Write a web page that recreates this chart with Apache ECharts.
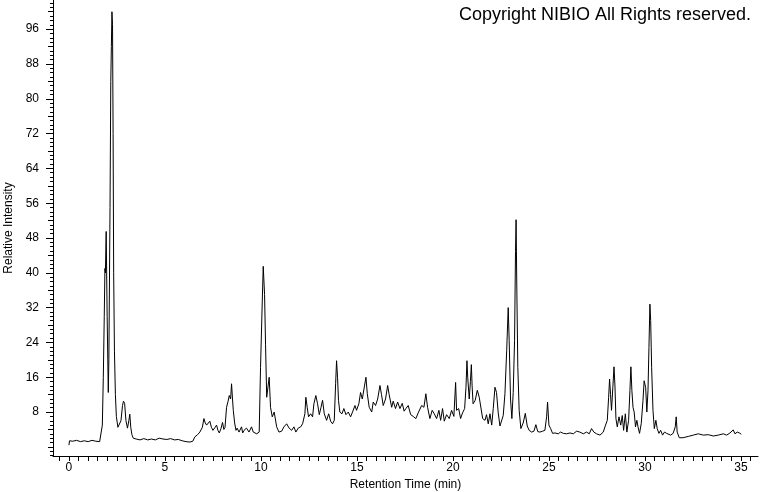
<!DOCTYPE html>
<html>
<head>
<meta charset="utf-8">
<script src="https://cdn.jsdelivr.net/npm/echarts@6/dist/echarts.min.js"></script>
<style>html,body{margin:0;padding:0;background:#fff}#c{width:760px;height:492px}</style>
</head>
<body>
<div id="c"></div>
<script>
const times = [0.00,0.03,0.2,0.4,0.6,0.8,1.0,1.2,1.4,1.6,1.69,
1.74,1.79,1.84,1.875,1.90,1.94,1.99,2.05,2.08,2.14,2.18,2.21,2.24,2.27,2.30,2.33,2.37,2.42,2.47,2.55,2.63,2.71,2.79,2.84,2.90,2.97,3.05,3.12,3.17,3.22,3.28,3.35,
3.5,3.7,3.9,4.1,4.3,4.5,4.7,4.9,5.1,5.3,5.5,5.7,5.9,6.1,6.3,6.45,6.56,6.7,6.82,6.95,7.03,7.1,7.17,7.25,7.34,7.42,7.5,7.6,7.69,7.76,7.83,7.92,8.0,8.07,8.13,8.21,8.29,8.35,8.42,8.47,8.52,8.56,8.63,8.7,8.76,8.86,8.99,9.05,9.12,9.25,9.38,9.51,9.6,9.7,9.78,9.91,
9.98,10.07,10.12,10.19,10.24,10.3,10.36,10.43,10.5,10.59,10.69,10.82,10.94,11.08,11.2,11.34,11.47,11.6,11.72,11.82,11.94,12.07,12.17,12.29,12.34,12.41,12.48,12.59,12.69,12.76,12.86,12.95,13.04,13.13,13.21,13.3,13.42,13.53,13.63,13.73,13.82,13.89,13.94,13.99,14.04,14.11,14.22,14.32,14.43,14.55,14.67,14.77,14.9,14.98,
15.1,15.19,15.28,15.38,15.47,15.54,15.64,15.77,15.85,15.97,16.08,16.2,16.28,16.37,16.49,16.6,16.68,16.81,16.89,17.01,17.12,17.24,17.36,17.46,17.55,17.67,17.8,17.93,18.07,18.19,18.37,18.49,18.59,18.68,18.8,18.92,19.03,19.15,19.27,19.36,19.46,19.55,19.67,19.81,19.93,
20.05,20.14,20.19,20.3,20.4,20.5,20.61,20.68,20.73,20.77,20.85,20.91,20.96,21.0,21.05,21.16,21.27,21.37,21.46,21.55,21.67,21.75,21.84,21.93,22.02,22.1,22.19,22.27,22.36,22.45,22.54,22.62,22.71,22.8,22.88,22.93,23.0,23.07,23.14,23.21,23.26,23.29,23.33,23.38,23.45,23.54,23.66,23.77,23.87,23.97,24.1,24.22,24.32,24.42,24.53,24.67,24.79,24.88,24.93,
25.0,25.09,25.19,25.31,25.49,25.6,25.75,25.92,26.1,26.27,26.44,26.61,26.79,26.96,27.1,27.22,27.34,27.48,27.66,27.83,27.95,28.04,28.11,28.16,28.21,28.26,28.33,28.39,28.44,28.49,28.56,28.65,28.74,28.82,28.89,28.98,29.06,29.15,29.22,29.27,29.32,29.38,29.44,29.51,29.58,29.64,29.72,29.81,29.9,29.96,
30.04,30.1,30.16,30.21,30.26,30.3,30.35,30.42,30.49,30.57,30.64,30.73,30.82,30.92,31.02,31.13,31.23,31.34,31.47,31.58,31.63,31.68,31.79,31.99,32.26,32.52,32.78,33.04,33.3,33.56,33.82,34.08,34.26,34.43,34.6,34.69,34.81,34.92,35.02];
const intensity = [0.4,1.4,1.3,1.5,1.2,1.4,1.2,1.5,1.3,1.2,1.4,
5,16,30,41,40,49.5,30,12.5,20,55,84,92,100,97,72,40,22,12,7,4.5,4.3,6,9.5,10.5,10,6,4.3,6,7.5,4.5,2.8,2.0,
1.8,1.6,1.9,1.6,1.8,1.6,2.0,1.8,1.7,1.9,1.6,1.7,1.4,1.2,1.1,1.3,2.3,2.8,3.4,4.5,6.5,5.5,5.0,4.8,5.9,4.5,3.8,4.4,5.0,3.8,3.2,4.2,5.6,4.0,4.5,9.1,10.5,11.8,11.0,14.5,11,8.4,5.5,3.8,4.3,3.4,4.6,3.2,3.8,4.3,3.4,4.6,3.4,3.8,3.0,3.4,
18.3,33.5,41.5,35,23.6,11.4,11,16,9.1,6.9,8,4.6,3.4,3.6,4.6,5.3,4.3,3.8,4.6,3.4,4.3,4.6,5.3,7.6,11.4,9.1,6.9,7.6,6.9,9.9,11.8,9.9,7.4,9.1,10.7,7.6,6.1,7.6,5.9,5.3,6.1,14.5,19.8,16,10.7,8,7.6,8.8,7.4,8,6.9,8,9.5,8.4,
9.9,12.5,11,11.4,16,12.2,9.1,8,10.3,9.5,11,14.1,12,9.5,11,14.1,12,9.1,10.5,8.8,10.3,8.8,10,8.2,8.8,9.5,7.4,7.0,6.5,7.8,9.5,9.1,12.2,9.1,6.5,8.4,7.6,6.5,8.4,6.1,8.8,5.9,7.4,6.5,8.4,
7.0,14.8,8.4,8.8,6.5,7.8,8.8,13.7,19.8,16,11,15,18.9,14,9.9,10.7,13,11.4,11,6.5,6.1,7.4,5.3,7.6,5.0,8.8,13.7,12.5,7.8,4.8,4.6,7.2,12.2,22.1,32,24.4,11,6.5,12.5,24.4,44.9,52.2,35.8,18.3,8.4,4.2,5.5,7.7,4.8,3.8,3.4,3.6,5.1,3.5,3.4,3.6,3.8,6.9,10.3,
5,4.2,3.1,3.2,3.0,3.4,3.1,3.0,3.2,3.0,3.6,3.4,3.0,3.4,3.0,4.2,3.4,3.0,2.7,3.4,5.0,6.1,11.4,15.6,12,8.4,13.7,18.4,14,6.5,4.6,6.9,5,7.2,3.8,7.6,3.4,6.1,13,18.4,13,9.1,8.0,4.6,6.1,4.6,3.1,5.4,10.7,15.2,
13.6,8,12.9,22.8,32.8,29,18.3,8.4,4.2,6.1,4.2,3.1,3.8,2.7,3.4,3.1,3.2,2.7,3.1,4.6,6.9,3.4,2.1,2.1,2.4,2.7,3.0,2.7,2.8,2.5,2.7,3.0,2.7,3.2,3.9,3.0,3.4,3.2,2.9];

const xLabelValues = [0,5,10,15,20,25,30,35];
const yLabelValues = [8,16,24,32,40,48,56,64,72,80,88,96];

const xMinorTicks = [];
for (let v = -0.5; v <= 35.5; v += 0.5) xMinorTicks.push(v);
const yMinorTicks = [];
for (let v = -2; v <= 102; v += 1) yMinorTicks.push(v);
const yMidTicks = [];
for (let v = 0; v <= 100; v += 4) yMidTicks.push(v);

const data = times.map((t, i) => [t, intensity[i]]);
const FONT = 'Liberation Sans, Arial, sans-serif';
const YMIN = -2.1, YMAX = 102.7;

const chart = echarts.init(document.getElementById('c'), null, {renderer: 'canvas'});
const yBase = {
  type: 'value', min: YMIN, max: YMAX, position: 'left',
  splitLine: {show: false},
  axisLine: {show: false, onZero: false},
  axisLabel: {show: false},
};
chart.setOption({
  animation: false,
  backgroundColor: '#fff',
  title: {
    text: 'Copyright NIBIO All Rights reserved.',
    right: 4, top: 1,
    textStyle: {fontFamily: FONT, fontSize: 18, fontWeight: 'normal', color: '#000'}
  },
  grid: {left: 53, right: 2, top: 0, bottom: 36, containLabel: false, outerBoundsMode: 'none'},
  xAxis: [{
    type: 'value', min: -0.83, max: 35.89,
    name: 'Retention Time (min)', nameLocation: 'middle', nameGap: 22,
    nameTextStyle: {fontFamily: FONT, fontSize: 12, color: '#000'},
    axisLine: {show: true, onZero: false, lineStyle: {color: '#000', width: 1}},
    axisTick: {show: true, customValues: xMinorTicks, length: 5, lineStyle: {color: '#000'}},
    axisLabel: {customValues: xLabelValues, fontFamily: FONT, fontSize: 12, color: '#000', margin: 6},
    splitLine: {show: false}
  }],
  yAxis: [
    Object.assign({}, yBase, {
      name: 'Relative Intensity', nameLocation: 'middle', nameGap: 36,
      nameTextStyle: {fontFamily: FONT, fontSize: 12, color: '#000'},
      axisLine: {show: true, onZero: false, lineStyle: {color: '#000', width: 1}},
      axisTick: {show: true, customValues: yLabelValues, length: 7, lineStyle: {color: '#000'}},
      axisLabel: {show: true, customValues: yLabelValues, fontFamily: FONT, fontSize: 12, color: '#000', margin: 14}
    }),
    Object.assign({}, yBase, {
      axisTick: {show: true, customValues: yMinorTicks, length: 3, lineStyle: {color: '#000'}}
    }),
    Object.assign({}, yBase, {
      axisTick: {show: true, customValues: yMidTicks, length: 5, lineStyle: {color: '#000'}}
    })
  ],
  series: [{
    type: 'line', data: data, xAxisIndex: 0, yAxisIndex: 0,
    showSymbol: false, symbol: 'none', smooth: false,
    lineStyle: {color: '#000', width: 1}
  }]
});
</script>
</body>
</html>
